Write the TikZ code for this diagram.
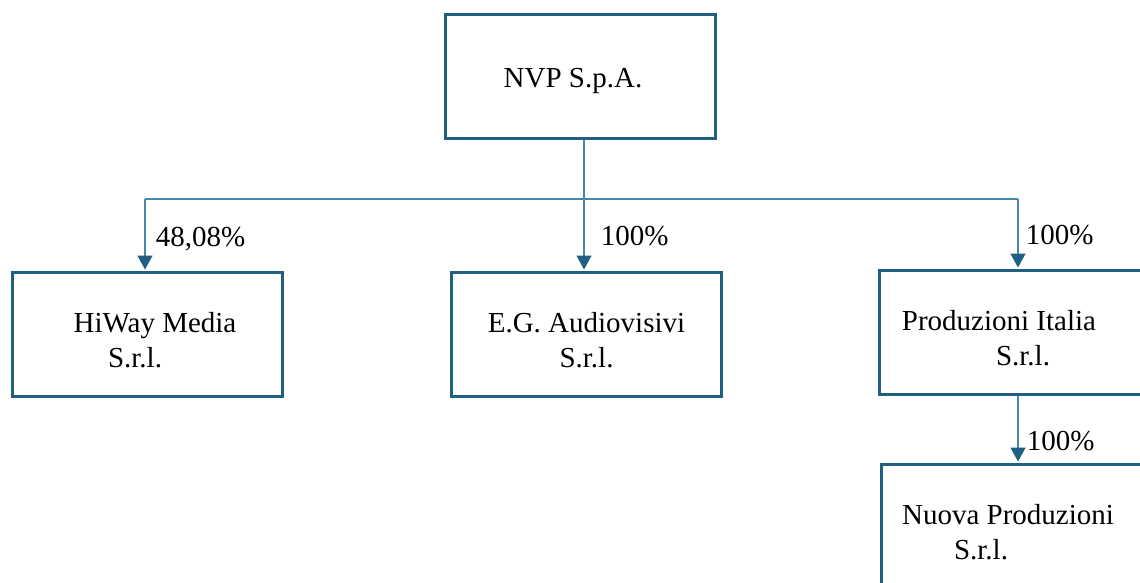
\documentclass[tikz,border=0pt]{standalone}
\usepackage{fontspec}
\setmainfont{Liberation Serif}
\usetikzlibrary{arrows.meta}
\definecolor{boxblue}{RGB}{31,96,130}
\definecolor{linkblue}{RGB}{72,136,170}

\begin{document}
\begin{tikzpicture}[x=1pt,y=-1pt,
  company/.style={draw=boxblue,line width=3pt,minimum width=270pt,minimum height=124pt,
    inner sep=0pt,align=center,font=\fontsize{29}{35}\selectfont,
    execute at begin node={\rule{0pt}{#1}}},
  company/.default=67pt,
  link/.style={draw=linkblue,line width=1.5pt},
  share/.style={link,-{Triangle[length=14pt,width=15pt,color=boxblue]},shorten >=1.5pt},
  pct/.style={anchor=west,inner sep=0pt,font=\fontsize{29}{34}\selectfont}]
\useasboundingbox (0,0) rectangle (1140,583);
\clip (0,0) rectangle (1140,583);
% companies
\node[company=29pt] (nvp) at (580.5,76.5) {NVP S.p.A.\hspace*{15pt}};
\node[company] (hiway) at (147,334.5) {\hspace*{16pt}HiWay Media\\S.r.l.\hspace*{24pt}};
\node[company] (eg) at (586.5,334.5) {E.G. Audiovisivi\\S.r.l.};
\node[company] (prod) at (1014,332.5) {Produzioni Italia\hspace*{30pt}\\\hspace*{18pt}S.r.l.};
\node[company] (nuova) at (1016,526.5) {Nuova Produzioni\hspace*{16pt}\\S.r.l.\hspace*{70pt}};
% shares
\coordinate (busL) at (145,199);
\coordinate (busM) at (584,199);
\coordinate (busR) at (1018,199);
\draw[link] (busL) -- (busR);
\draw[share] (busL) -- node[pct,pos=0.55,xshift=10pt] (pHiway) {48,08\%} (hiway.north -| busL);
\draw[share] (nvp.south -| busM) -- node[pct,pos=0.73,xshift=16pt] (pEg) {100\%} (eg.north -| busM);
\draw[share] (busR) -- node[pct,pos=0.52,xshift=7pt] (pProd) {100\%} (prod.north -| busR);
\draw[share] (prod.south -| busR) -- node[pct,pos=0.67,xshift=8pt] (pNuova) {100\%} (nuova.north -| busR);
\end{tikzpicture}
\end{document}
